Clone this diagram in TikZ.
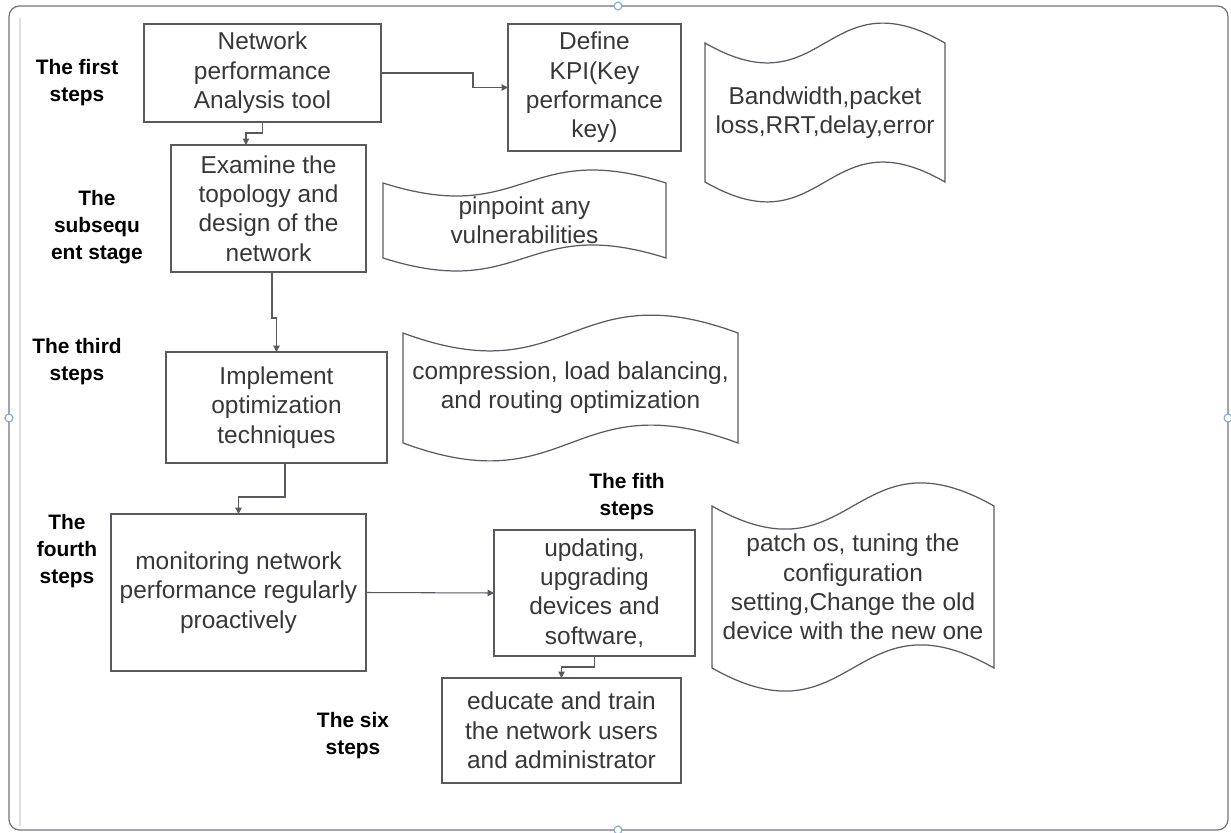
\documentclass[tikz,border=0pt]{standalone}
\usepackage{fontspec}
\setmainfont{Liberation Sans}
\usetikzlibrary{arrows.meta, calc}
\definecolor{boxline}{RGB}{88,90,96}
\definecolor{boxtext}{RGB}{55,55,55}
\definecolor{framegray}{RGB}{112,116,126}
\definecolor{handleblue}{RGB}{125,165,215}
\tikzstyle{stepbox} = [draw=boxline, line width=0.8pt, inner sep=0, outer sep=0,
    text=boxtext, align=center, font=\fontsize{13.9}{16.7}\selectfont]
\tikzstyle{wavetext} = [draw=none, inner sep=0, outer sep=0,
    text=boxtext, align=center, font=\fontsize{13.9}{16.7}\selectfont]
\tikzstyle{steplabel} = [inner sep=0, align=center, text=black,
    font=\fontsize{11.9}{15.3}\selectfont\bfseries]
\tikzstyle{conn} = [draw=boxline, line width=0.6pt,
    -{Triangle[length=3.6pt, width=3.6pt]}]
\tikzstyle{handle} = [circle, draw=handleblue, fill=white, line width=0.6pt,
    minimum size=0.16cm, inner sep=0]
% wavy (tape) border round a text node, #2 = bend of the wave
\newcommand{\waveborder}[2]{%
  \draw[boxline, line width=0.7pt] (#1.north west)
    .. controls ($(#1.north)+(0,#2)$) and ($(#1.north)+(0,-#2)$) .. (#1.north east)
    -- (#1.south east)
    .. controls ($(#1.south)+(0,-#2)$) and ($(#1.south)+(0,#2)$) .. (#1.south west)
    -- cycle;}

\begin{document}
\begin{tikzpicture}[x=0.02cm, y=-0.02cm]

    \useasboundingbox (0,0) rectangle (1231,832);

    % 0. The frame round everything
    \draw[framegray, line width=0.7pt, rounded corners=6pt] (9,6) rectangle (1228,830);
    \draw[gray!25, line width=0.6pt] (20,18) -- (20,826);
    \node[handle] (hn) at (618,6) {};
    \node[handle] (hw) at (9,418) {};
    \node[handle] (he) at (1228,418) {};
    \node[handle] (hs) at (618,830) {};

    %%% STEP 1
    \node[steplabel] (l1) at (77,83) {The first\\steps};
    \node[stepbox, minimum width=4.74cm, minimum height=1.96cm] (analysis) at (262.5,73)
        {Network\\performance\\Analysis tool};
    \node[stepbox, minimum width=3.46cm, minimum height=2.54cm] (kpi) at (594.5,87.5)
        {Define\\KPI(Key\\performance\\key)};
    \node[wavetext, minimum width=4.8cm, minimum height=2.78cm] (metrics) at (825,112.5)
        {Bandwidth,packet\\loss,RRT,delay,error};
    \waveborder{metrics}{69}

    %%% STEP 2
    \node[steplabel] (l2) at (97,227) {The\\subsequ\\ent stage};
    \node[stepbox, minimum width=3.9cm, minimum height=2.54cm] (topology) at (268.5,208.5)
        {Examine the\\topology and\\design of the\\network};
    \node[wavetext, minimum width=5.66cm, minimum height=1.5cm] (vuln) at (524.5,220.5)
        {pinpoint any\\vulnerabilities};
    \waveborder{vuln}{45}

    %%% STEP 3
    \node[steplabel] (l3) at (77,362) {The third\\steps};
    \node[stepbox, minimum width=4.42cm, minimum height=2.22cm] (optim) at (276.5,407.5)
        {Implement\\optimization\\techniques};
    \node[wavetext, minimum width=6.7cm, minimum height=2.2cm] (tech) at (570.5,388)
        {compression, load balancing,\\and routing optimization};
    \waveborder{tech}{62}

    %%% STEP 4
    \node[steplabel] (l4) at (67,551) {The\\fourth\\steps};
    \node[stepbox, minimum width=5.1cm, minimum height=3.14cm] (monitor) at (238.5,592.5)
        {monitoring network\\performance regularly\\proactively};

    %%% STEP 5
    \node[steplabel] (l5) at (627,497) {The fith\\steps};
    \node[stepbox, minimum width=4.02cm, minimum height=2.52cm] (update) at (594.5,593)
        {updating,\\upgrading\\devices and\\software,};
    \node[wavetext, minimum width=5.64cm, minimum height=3.24cm] (patch) at (853,587)
        {patch os, tuning the\\configuration\\setting,Change the old\\device with the new one};
    \waveborder{patch}{80}

    %%% STEP 6
    \node[steplabel] (l6) at (353,736) {The six\\steps};
    \node[stepbox, minimum width=4.78cm, minimum height=2.1cm] (educate) at (561.5,730.5)
        {educate and train\\the network users\\and administrator};

    % connectors
    \draw[conn] (analysis.east) -- ++(92,0) |- (kpi.west);
    \draw[conn] (analysis.south) -- ++(0,11) -| ($(topology.north)+(-22.5,0)$);
    \draw[conn] ($(topology.south)+(3.5,0)$) -- ++(0,46) -| (optim.north);
    \draw[conn] ($(optim.south)+(8.5,0)$) -- ++(0,34) -| (monitor.north);
    \draw[conn] (monitor.east) -- (update.west);
    \draw[conn] (update.south) -- ++(0,11) -| (educate.north);

\end{tikzpicture}
\end{document}
